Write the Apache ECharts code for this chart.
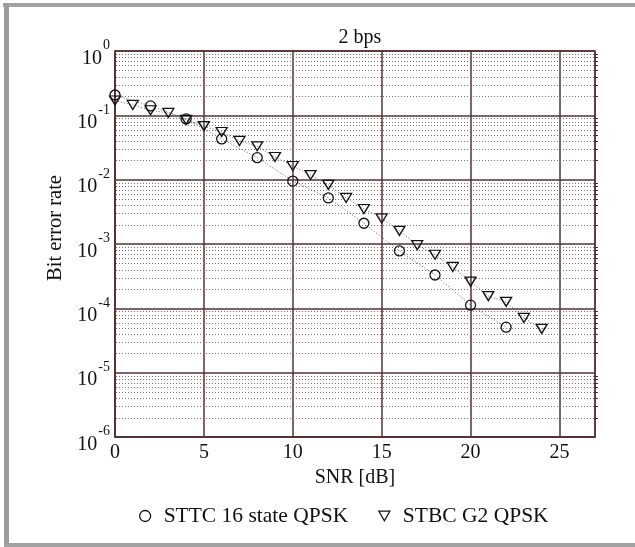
<!DOCTYPE html>
<html>
<head>
<meta charset="utf-8">
<script src="https://cdn.jsdelivr.net/npm/echarts@6/dist/echarts.min.js"></script>
<style>
html,body{margin:0;padding:0;background:#fff;}
#c{width:635px;height:547px;}
</style>
</head>
<body>
<div id="c"></div>
<script>
// ---- data ----
const titleText = '2 bps';
const seriesNames = ['STTC 16 state QPSK', 'STBC G2 QPSK'];
const snrSTTC = [0, 2, 4, 6, 8, 10, 12, 14, 16, 18, 20, 22];
const berSTTC = [0.207, 0.14, 0.088, 0.043, 0.022, 0.0095, 0.0052, 0.0021, 0.00078, 0.00033, 0.000112, 0.000051];
const snrSTBC = [0, 1, 2, 3, 4, 5, 6, 7, 8, 9, 10, 11, 12, 13, 14, 15, 16, 17, 18, 19, 20, 21, 22, 23, 24];
const berSTBC = [0.17, 0.145, 0.12, 0.109, 0.085, 0.068, 0.055, 0.040, 0.033, 0.0225, 0.0163, 0.0118, 0.0083, 0.0052, 0.0035, 0.0025, 0.0016, 0.00096, 0.00068, 0.00044, 0.00026, 0.000155, 0.000126, 0.000071, 0.000048];
const xTicks = [0, 5, 10, 15, 20, 25];
const decades = [-6, -5, -4, -3, -2, -1];
const minorMult = [2, 3, 4, 5, 6, 7, 8, 9];
const xMin = 0, xMax = 27;

const FONT = 'Liberation Serif, Times New Roman, serif';
const MAJOR = '#553232';
const TRI = 'path://M0,0L10,0L5,8.7Z';

const minorVals = [];
decades.forEach(d => minorMult.forEach(m => minorVals.push(m * Math.pow(10, d))));

const chart = echarts.init(document.getElementById('c'), null, { renderer: 'canvas' });
chart.setOption({
  animation: false,
  backgroundColor: '#fff',
  textStyle: { fontFamily: FONT },
  title: {
    text: titleText, left: 355, textAlign: 'center', top: 23,
    textStyle: { fontFamily: FONT, fontSize: 20, fontWeight: 'normal', color: '#111' }
  },
  graphic: [
    { type: 'rect', shape: { x: 3, y: 3, width: 632, height: 4 }, style: { fill: '#a2a2a2' }, silent: true },
    { type: 'rect', shape: { x: 4, y: 3, width: 5, height: 544 }, style: { fill: '#9c9c9c' }, silent: true },
    { type: 'rect', shape: { x: 4, y: 543, width: 631, height: 4 }, style: { fill: '#a2a2a2' }, silent: true }
  ],
  legend: {
    top: 500, left: 134,
    itemWidth: 11, itemHeight: 11, itemGap: 30,
    itemStyle: { color: 'rgba(255,255,255,0)', borderColor: '#111', borderWidth: 1.3 },
    lineStyle: { width: 0, opacity: 0 },
    textStyle: { fontFamily: FONT, fontSize: 21.5, color: '#111', padding: [0, 0, 0, 8] },
    data: [
      { name: seriesNames[0], icon: 'circle' },
      { name: seriesNames[1], icon: TRI }
    ]
  },
  grid: {
    left: 115, right: 40, top: 51, bottom: 110,
    show: true, borderColor: MAJOR, borderWidth: 1.5, backgroundColor: '#fff'
  },
  xAxis: {
    type: 'value', min: xMin, max: xMax, interval: 5,
    name: 'SNR [dB]', nameLocation: 'middle', nameGap: 31,
    nameTextStyle: { fontFamily: FONT, fontSize: 20, color: '#111' },
    axisLine: { lineStyle: { color: MAJOR, width: 1.5 } },
    axisTick: { show: false },
    axisLabel: { fontFamily: FONT, fontSize: 20, color: '#111', margin: 6,
      formatter: v => (xTicks.indexOf(v) >= 0 ? String(v) : '') },
    splitLine: { show: true, lineStyle: { color: MAJOR, width: 1.5 } }
  },
  yAxis: {
    type: 'log', logBase: 10, min: 1e-6, max: 1,
    name: 'Bit error rate', nameLocation: 'middle', nameGap: 46, nameRotate: 90,
    nameTextStyle: { fontFamily: FONT, fontSize: 20.5, color: '#111', padding: [0, 0, 0, 32] },
    axisLine: { lineStyle: { color: MAJOR, width: 1.5 } },
    axisTick: { show: false },
    axisLabel: {
      margin: 5,
      formatter: v => {
        const e = Math.round(Math.log10(v));
        return '{b|10}{e|' + e + '}';
      },
      rich: {
        b: { fontFamily: FONT, fontSize: 20, color: '#111', verticalAlign: 'bottom', padding: [0, 0, -5, 0] },
        e: { fontFamily: FONT, fontSize: 14, color: '#111', verticalAlign: 'bottom', padding: [0, 0, 11, 1] }
      }
    },
    splitLine: { show: true, lineStyle: { color: MAJOR, width: 1.5 } }
  },
  series: [
    {
      name: 'minor-grid', type: 'custom', silent: true, z: 1,
      data: minorVals.map(v => [xMin, v]),
      encode: { x: 0, y: 1 },
      renderItem: (params, api) => {
        const v = api.value(1);
        const p1 = api.coord([xMin, v]);
        const p2 = api.coord([xMax, v]);
        return {
          type: 'group',
          children: [
            { type: 'line', shape: { x1: p1[0] + 1, y1: Math.round(p1[1]) + 0.5, x2: p2[0] - 1, y2: Math.round(p2[1]) + 0.5 },
              style: { stroke: '#7d6e6e', lineWidth: 1, lineDash: [1, 2] } },
            { type: 'line', shape: { x1: p2[0], y1: Math.round(p2[1]) + 0.5, x2: p2[0] + 3, y2: Math.round(p2[1]) + 0.5 },
              style: { stroke: '#333', lineWidth: 1 } }
          ]
        };
      }
    },
    {
      name: seriesNames[0], type: 'line',
      data: snrSTTC.map((x, i) => [x, berSTTC[i]]),
      symbol: 'circle', symbolSize: 10, showAllSymbol: true,
      lineStyle: { color: '#666', width: 1, type: [1, 2] },
      itemStyle: { color: 'rgba(255,255,255,0)', borderColor: '#111', borderWidth: 1.3 },
      z: 3
    },
    {
      name: seriesNames[1], type: 'line',
      data: snrSTBC.map((x, i) => [x, berSTBC[i]]),
      symbol: TRI, symbolSize: [11, 9], showAllSymbol: true,
      lineStyle: { color: '#666', width: 1, type: [1, 2] },
      itemStyle: { color: 'rgba(255,255,255,0)', borderColor: '#111', borderWidth: 1.3 },
      z: 3
    }
  ]
});
</script>
</body>
</html>
